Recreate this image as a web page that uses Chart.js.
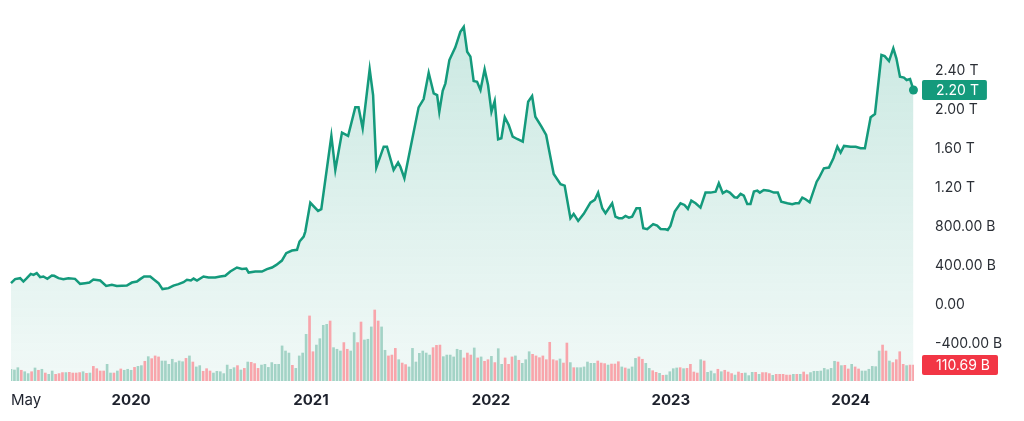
<!DOCTYPE html>
<html><head><meta charset="utf-8">
<script src="https://cdn.jsdelivr.net/npm/chart.js@4.4.1/dist/chart.umd.min.js"></script>
<style>html,body{margin:0;padding:0;background:#fff;}#wrap{width:1024px;height:421px;position:relative;}</style>
</head><body><div id="wrap"><canvas id="c"></canvas></div>
<script>
// Price (total market cap, billions USD) by decimal year
const priceDates = [2019.332,2019.355,2019.383,2019.401,2019.420,2019.442,2019.457,2019.475,2019.494,2019.512,
2019.534,2019.559,2019.572,2019.596,2019.623,2019.651,2019.688,2019.716,2019.744,2019.768,
2019.790,2019.828,2019.861,2019.893,2019.920,2019.976,2020.004,2020.032,2020.050,2020.072,
2020.106,2020.128,2020.152,2020.174,2020.208,2020.235,2020.263,2020.291,2020.310,2020.332,
2020.347,2020.366,2020.402,2020.430,2020.467,2020.495,2020.523,2020.551,2020.588,2020.616,
2020.640,2020.653,2020.690,2020.727,2020.755,2020.783,2020.807,2020.838,2020.862,2020.894,
2020.922,2020.936,2020.959,2020.968,2020.996,2021.039,2021.057,2021.113,2021.135,2021.172,
2021.206,2021.246,2021.264,2021.287,2021.326,2021.345,2021.363,2021.404,2021.422,2021.459,
2021.484,2021.496,2021.519,2021.598,2021.626,2021.654,2021.682,2021.701,2021.713,2021.732,
2021.747,2021.769,2021.802,2021.830,2021.849,2021.868,2021.886,2021.904,2021.923,2021.942,
2021.965,2021.984,2022.003,2022.021,2022.040,2022.058,2022.077,2022.099,2022.121,2022.146,
2022.177,2022.207,2022.229,2022.247,2022.281,2022.307,2022.349,2022.387,2022.410,2022.442,
2022.460,2022.485,2022.516,2022.553,2022.577,2022.596,2022.619,2022.637,2022.674,2022.692,
2022.711,2022.730,2022.748,2022.767,2022.785,2022.809,2022.828,2022.847,2022.869,2022.902,
2022.924,2022.943,2022.971,2022.983,2022.998,2023.022,2023.054,2023.076,2023.095,2023.114,
2023.138,2023.165,2023.193,2023.221,2023.249,2023.267,2023.289,2023.310,2023.328,2023.354,
2023.369,2023.388,2023.406,2023.425,2023.443,2023.462,2023.481,2023.495,2023.517,2023.545,
2023.573,2023.595,2023.614,2023.648,2023.675,2023.694,2023.712,2023.731,2023.749,2023.772,
2023.811,2023.823,2023.851,2023.879,2023.904,2023.926,2023.944,2023.963,2024.000,2024.028,
2024.055,2024.079,2024.111,2024.135,2024.171,2024.189,2024.213,2024.237,2024.254,2024.274,
2024.296,2024.311,2024.330,2024.349];
const priceValues = [222,263,273,238,273,317,307,324,283,290,
266,300,297,273,263,273,266,215,222,228,
259,249,194,205,194,197,228,238,263,290,
290,256,222,161,171,197,212,232,256,249,
269,249,290,279,279,290,297,341,382,368,
371,330,341,341,365,382,409,453,529,556,
563,648,699,750,1045,962,979,1729,1381,1763,
1729,2022,2022,1808,2411,2148,1405,1619,1619,1381,
1456,1415,1296,2022,2107,2376,2166,2148,1977,2192,
2268,2506,2636,2796,2847,2592,2541,2292,2284,2199,
2411,2251,1977,2087,1695,1705,1920,1841,1722,1698,
1671,2080,2138,1926,1824,1739,1340,1235,1220,887,
931,859,931,1047,1074,1149,989,938,1040,903,
887,887,910,893,903,989,989,785,774,826,
811,777,774,767,808,954,1040,1023,982,1067,
1040,995,1149,1149,1159,1245,1143,1166,1149,1102,
1098,1136,1118,1033,1033,1159,1169,1149,1176,1169,
1149,1149,1057,1040,1030,1040,1040,1098,1081,1050,
1261,1296,1398,1405,1501,1619,1558,1627,1619,1619,
1603,1603,1920,1954,2558,2547,2496,2626,2524,2336,
2326,2302,2312,2200];
// Weekly volume (billions USD)
const volumeValues = [81,76,92,74,64,51,64,90,74,81,
55,46,69,46,51,58,58,60,55,55,
58,64,53,55,101,85,69,69,115,55,
55,69,83,74,81,74,94,101,106,136,
168,154,173,166,138,138,115,150,127,138,
133,156,173,131,97,106,67,85,69,55,
67,64,51,110,81,92,106,76,87,131,
129,120,87,110,115,94,127,115,115,242,
207,193,108,87,173,193,322,449,202,248,
292,384,391,414,230,219,207,265,219,207,
334,265,407,283,288,373,490,414,373,212,
173,179,225,147,124,113,97,225,131,191,
207,193,179,230,246,248,168,179,179,166,
219,212,159,193,179,228,159,166,136,147,
170,127,223,115,159,115,166,173,143,122,
147,202,184,173,161,173,147,267,147,140,
152,124,262,127,92,92,92,97,131,122,
122,138,124,120,110,117,117,133,97,90,
83,97,156,166,150,122,87,71,60,53,
39,41,64,85,90,92,85,87,115,62,
55,147,138,60,69,51,81,64,74,62,
51,41,62,53,55,37,60,60,46,58,
58,51,39,46,46,46,41,41,46,46,
46,62,44,58,67,67,69,87,78,87,
136,131,106,108,83,115,97,83,69,69,
81,101,99,207,248,207,138,127,147,202,
115,106,110,110.69];
// u = up week, d = down week
const volumeDirection = ["uuuduududu","duuddduddd","dududddduu","duduuuduud","uddduuuuuu",
"ududuudddu","uuuuuududu","ddduuuuuuu","uuduuuuddu","uuuduuuddu","udduuudduu",
"dddudduuuu","uuuddduuuu",
"uudddududd","uduudddudu","uudddddddd","udduduuuuu","udddudddud","uuudduuddu",
"duuuududdd","duduuududd","dudduuudud","ddudddddud","udduuuuuuu","ududdudduu",
"uuuudduddd","dudd"].join('');
const yTickValues = [-400,0,400,800,1200,1600,2000,2400];
const xTickYears = [2020,2021,2022,2023,2024];
const firstLabel = 'May';

const FONT = "Inter, 'Open Sans', 'Liberation Sans', sans-serif";
const LINE_COLOR = '#149a7c';
const UP_COLOR = '#a3d3c6';
const DOWN_COLOR = '#f8a5ab';

const nP = Math.min(priceDates.length, priceValues.length);
const priceData = [];
for (let i = 0; i < nP; i++) priceData.push({x: priceDates[i], y: priceValues[i]});
const xStart = priceDates[0], xEnd = priceDates[nP - 1];
const nV = volumeValues.length;
const volData = volumeValues.map((v, i) => ({x: xStart + i * (xEnd - xStart) / (nV - 1), y: v}));
const volColors = volumeValues.map((v, i) => (volumeDirection[i] === 'd' || i === nV - 1) ? DOWN_COLOR : UP_COLOR);

function fmtPrice(v) {
  if (v === 0) return '0.00';
  if (Math.abs(v) >= 1000) return (v / 1000).toFixed(2) + ' T';
  return v.toFixed(2) + ' B';
}

const badgePlugin = {
  id: 'badges',
  afterDraw(chart) {
    const {ctx, chartArea, scales} = chart;
    ctx.save();
    ctx.font = '14px ' + FONT;
    ctx.textBaseline = 'middle';
    const draw = (yPix, text, color) => {
      const x0 = chartArea.right + 8;
      const w = ctx.measureText(text).width + 22;
      const h = 20;
      ctx.fillStyle = color;
      ctx.beginPath();
      if (ctx.roundRect) ctx.roundRect(x0, yPix - h / 2, w, h, 2); else ctx.rect(x0, yPix - h / 2, w, h);
      ctx.fill();
      ctx.fillStyle = '#ffffff';
      ctx.textAlign = 'left';
      ctx.fillText(text, x0 + 14, yPix + 0.5);
    };
    const lastP = priceValues[nP - 1];
    const lastV = volumeValues[nV - 1];
    draw(scales.y.getPixelForValue(lastP), fmtPrice(lastP), LINE_COLOR);
    draw(scales.yv.getPixelForValue(lastV), lastV.toFixed(2) + ' B', '#f23645');
    ctx.restore();
  }
};

const noPad = s => { s.paddingLeft = 0; s.paddingRight = 0; s.paddingTop = 0; s.paddingBottom = 0; };

new Chart(document.getElementById('c'), {
  data: {
    datasets: [
      {
        type: 'bar', data: volData, yAxisID: 'yv', order: 1,
        backgroundColor: volColors, barThickness: 2, borderWidth: 0
      },
      {
        type: 'line', data: priceData, yAxisID: 'y', order: 2,
        borderColor: LINE_COLOR, borderWidth: 2.5, tension: 0, clip: false,
        pointRadius: ctx => ctx.dataIndex === nP - 1 ? 4.5 : 0,
        pointHoverRadius: 0,
        pointBackgroundColor: LINE_COLOR, pointBorderWidth: 0,
        fill: 'start',
        backgroundColor: ctx => {
          const ca = ctx.chart.chartArea;
          if (!ca) return 'rgba(20,154,124,0.1)';
          const g = ctx.chart.ctx.createLinearGradient(0, ca.top, 0, ca.bottom);
          g.addColorStop(0, 'rgba(20,154,124,0.23)');
          g.addColorStop(1, 'rgba(20,154,124,0.06)');
          return g;
        }
      }
    ]
  },
  options: {
    responsive: true, maintainAspectRatio: false, animation: false,
    layout: {padding: {left: 11, top: 5, right: 0, bottom: 0}},
    plugins: {legend: {display: false}, tooltip: {enabled: false}},
    scales: {
      x: {
        type: 'linear', offset: false, min: xStart, max: xEnd + 0.003,
        afterBuildTicks: s => { s.ticks = [xStart, ...xTickYears, xEnd + 0.003].map(v => ({value: v})); },
        afterFit: s => { s.height = 40; noPad(s); },
        grid: {display: false, drawTicks: false, offset: false}, border: {display: false},
        ticks: {
          autoSkip: false, maxRotation: 0, minRotation: 0, align: 'inner', padding: 10,
          color: '#1e222d',
          font: ctx => ({family: FONT, size: 15, weight: ctx.index === 0 ? '400' : '700'}),
          callback: (v, i) => i === 0 ? firstLabel : (xTickYears.includes(v) ? String(v) : '')
        }
      },
      y: {
        type: 'linear', position: 'right', min: -780, max: 3070,
        afterBuildTicks: s => { s.ticks = yTickValues.map(v => ({value: v})); },
        afterFit: s => { s.width = 110; noPad(s); },
        grid: {display: false, drawTicks: false}, border: {display: false},
        ticks: {padding: 21, color: '#2b2f36', font: {family: FONT, size: 14}, callback: v => fmtPrice(v)}
      },
      yv: {type: 'linear', display: false, min: 0, max: 2594, afterFit: noPad}
    }
  },
  plugins: [badgePlugin]
});
</script></body></html>
